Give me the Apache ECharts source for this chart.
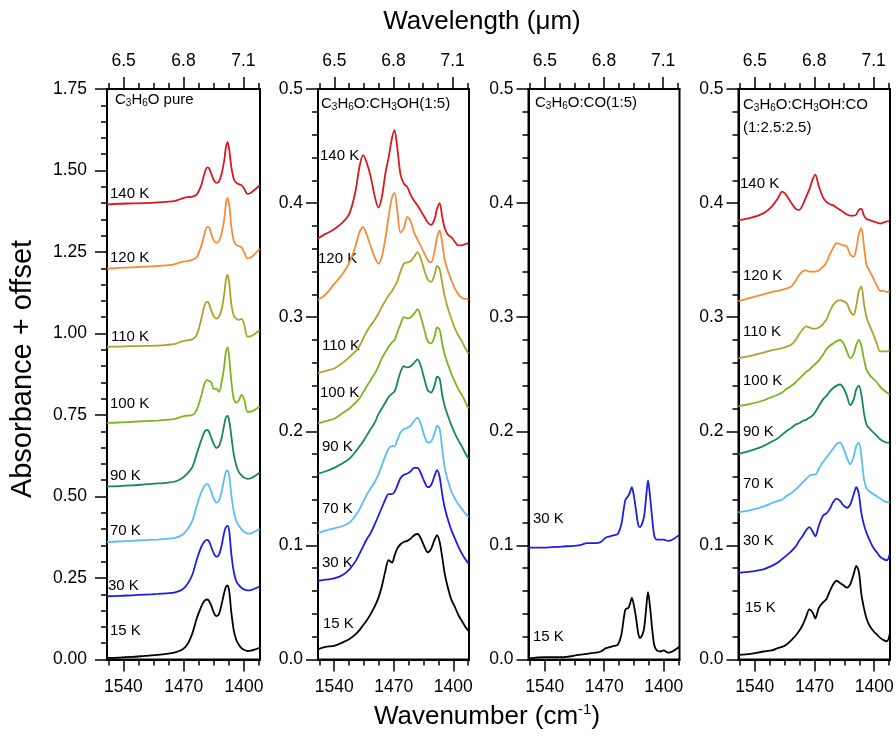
<!DOCTYPE html>
<html>
<head>
<meta charset="utf-8">
<script src="https://cdn.jsdelivr.net/npm/echarts@6.0.0/dist/echarts.min.js"></script>
<style>
html, body { margin: 0; padding: 0; background: #fff; }
#chart { width: 896px; height: 738px; }
</style>
</head>
<body>
<div id="chart"></div>
<script>
// axis ticks
var wavenumberTicks = [1540, 1470, 1400];
var wavenumberMinor = [1557.5, 1522.5, 1505, 1487.5, 1452.5, 1435, 1417.5, 1382.5];
var wavelengthTicks = [6.5, 6.8, 7.1];
var wavelengthMinor = [6.425, 6.575, 6.65, 6.725, 6.875, 6.95, 7.025, 7.175];
var temps = ['140 K', '120 K', '110 K', '100 K', '90 K', '70 K', '30 K', '15 K'];
var tempsCO = ['30 K', '15 K'];

// C3H6O pure
var wnPure = [1559,1545,1530,1515,1500,1490,1480,1472,1466,1460,1455,1450,1446,1443,1441,1438,1435,1432,1429,1426,1423,1421,1419,1417,1415,1412,1409,1406,1403,1400,1396,1392,1388,1382];
var pure140 = [1.396,1.398,1.399,1.400,1.402,1.404,1.407,1.414,1.418,1.420,1.426,1.452,1.490,1.509,1.508,1.490,1.470,1.462,1.467,1.490,1.530,1.572,1.587,1.560,1.515,1.475,1.462,1.458,1.455,1.445,1.428,1.432,1.440,1.454];
var pure120 = [1.199,1.201,1.203,1.205,1.207,1.209,1.213,1.220,1.222,1.226,1.234,1.265,1.305,1.326,1.326,1.305,1.285,1.278,1.284,1.308,1.350,1.398,1.416,1.390,1.335,1.285,1.272,1.268,1.264,1.250,1.230,1.234,1.243,1.260];
var pure110 = [0.959,0.960,0.961,0.962,0.963,0.965,0.968,0.976,0.979,0.982,0.995,1.040,1.085,1.097,1.094,1.070,1.052,1.046,1.052,1.075,1.120,1.165,1.180,1.150,1.095,1.055,1.045,1.042,1.045,1.030,0.990,0.992,0.998,1.010];
var pure100 = [0.726,0.727,0.729,0.731,0.733,0.735,0.738,0.745,0.748,0.750,0.765,0.805,0.845,0.857,0.855,0.850,0.829,0.831,0.821,0.850,0.900,0.945,0.957,0.920,0.860,0.800,0.788,0.795,0.812,0.800,0.760,0.760,0.765,0.775];
var pure90 = [0.531,0.532,0.534,0.537,0.540,0.542,0.546,0.556,0.570,0.590,0.630,0.670,0.698,0.704,0.700,0.680,0.660,0.649,0.655,0.680,0.720,0.743,0.747,0.730,0.690,0.630,0.595,0.575,0.565,0.558,0.554,0.556,0.562,0.573];
var pure70 = [0.360,0.362,0.364,0.366,0.368,0.370,0.373,0.382,0.398,0.425,0.470,0.510,0.532,0.538,0.535,0.515,0.492,0.481,0.488,0.515,0.555,0.576,0.580,0.560,0.510,0.455,0.425,0.410,0.400,0.392,0.386,0.387,0.392,0.400];
var pure30 = [0.194,0.195,0.197,0.199,0.201,0.203,0.206,0.214,0.230,0.260,0.305,0.343,0.362,0.367,0.364,0.345,0.325,0.315,0.322,0.350,0.390,0.406,0.410,0.390,0.330,0.270,0.240,0.228,0.220,0.215,0.212,0.213,0.217,0.224];
var pure15 = [0.005,0.006,0.008,0.011,0.014,0.017,0.022,0.030,0.045,0.080,0.125,0.160,0.180,0.184,0.181,0.165,0.143,0.133,0.140,0.170,0.205,0.223,0.227,0.205,0.150,0.090,0.060,0.045,0.035,0.030,0.026,0.027,0.030,0.036];

// C3H6O:CH3OH (1:5)
var wnMeth = [1559,1550,1540,1530,1522,1515,1510,1506,1502,1497,1492,1488,1484,1480,1476,1472,1469,1466,1462,1458,1454,1450,1446,1442,1438,1434,1430,1426,1422,1419,1416,1413,1410,1406,1402,1398,1394,1390,1386,1382];
var meth140 = [0.369,0.373,0.377,0.383,0.391,0.410,0.433,0.442,0.436,0.423,0.405,0.396,0.405,0.425,0.440,0.457,0.464,0.450,0.425,0.417,0.414,0.407,0.402,0.398,0.393,0.388,0.383,0.381,0.386,0.395,0.400,0.388,0.378,0.372,0.370,0.366,0.363,0.363,0.364,0.365];
var meth120 = [0.315,0.320,0.329,0.338,0.348,0.362,0.375,0.379,0.373,0.362,0.352,0.347,0.353,0.368,0.388,0.405,0.409,0.395,0.374,0.378,0.388,0.384,0.374,0.368,0.362,0.356,0.350,0.348,0.358,0.370,0.376,0.365,0.350,0.340,0.332,0.325,0.320,0.317,0.316,0.316];
var meth110 = [0.251,0.253,0.255,0.260,0.265,0.270,0.275,0.281,0.287,0.293,0.298,0.303,0.309,0.314,0.319,0.323,0.327,0.331,0.340,0.347,0.348,0.349,0.353,0.357,0.351,0.341,0.333,0.331,0.337,0.345,0.342,0.330,0.318,0.307,0.298,0.290,0.284,0.279,0.273,0.268];
var meth100 = [0.207,0.209,0.211,0.216,0.220,0.225,0.229,0.234,0.239,0.245,0.251,0.257,0.264,0.269,0.274,0.278,0.280,0.286,0.294,0.300,0.299,0.300,0.303,0.307,0.300,0.289,0.279,0.277,0.283,0.291,0.289,0.277,0.267,0.258,0.250,0.243,0.237,0.232,0.226,0.220];
var meth90 = [0.163,0.165,0.168,0.172,0.176,0.182,0.187,0.191,0.196,0.202,0.208,0.215,0.220,0.225,0.230,0.233,0.235,0.242,0.252,0.257,0.256,0.257,0.260,0.263,0.257,0.246,0.236,0.234,0.240,0.248,0.246,0.232,0.222,0.213,0.205,0.198,0.192,0.187,0.181,0.176];
var meth70 = [0.111,0.113,0.115,0.117,0.120,0.126,0.132,0.138,0.144,0.150,0.156,0.162,0.170,0.178,0.185,0.187,0.187,0.192,0.199,0.202,0.203,0.205,0.209,0.212,0.206,0.196,0.190,0.191,0.198,0.205,0.202,0.185,0.168,0.156,0.147,0.141,0.136,0.132,0.128,0.125];
var meth30 = [0.069,0.070,0.071,0.074,0.079,0.086,0.093,0.099,0.105,0.111,0.119,0.126,0.133,0.140,0.145,0.145,0.147,0.152,0.159,0.162,0.163,0.165,0.168,0.168,0.163,0.156,0.151,0.153,0.161,0.166,0.160,0.145,0.133,0.122,0.113,0.106,0.099,0.093,0.088,0.084];
var meth15 = [0.009,0.011,0.012,0.015,0.018,0.022,0.026,0.030,0.034,0.040,0.047,0.054,0.064,0.077,0.087,0.085,0.091,0.097,0.101,0.103,0.104,0.106,0.109,0.110,0.106,0.099,0.094,0.097,0.105,0.109,0.103,0.090,0.075,0.062,0.052,0.046,0.039,0.034,0.029,0.025];

// C3H6O:CO (1:5)
var wnCO = [1559,1540,1520,1500,1490,1480,1474,1468,1463,1458,1454,1450,1447,1445,1442,1440,1437.5,1435,1432.5,1430,1428,1425,1423,1421,1418.5,1416,1413.5,1411,1408,1404,1400,1395,1390,1382];
var co30 = [0.098,0.098,0.099,0.100,0.102,0.102,0.103,0.107,0.108,0.109,0.110,0.118,0.132,0.140,0.143,0.146,0.151,0.143,0.130,0.118,0.116,0.120,0.126,0.140,0.157,0.142,0.123,0.108,0.105,0.105,0.105,0.104,0.105,0.109];
var co15 = [0.001,0.002,0.002,0.004,0.005,0.006,0.007,0.010,0.011,0.012,0.013,0.021,0.036,0.044,0.045,0.048,0.054,0.047,0.036,0.023,0.019,0.022,0.028,0.042,0.059,0.045,0.026,0.012,0.008,0.007,0.008,0.006,0.007,0.011];

// C3H6O:CH3OH:CO (1:2.5:2.5)
var wnMix = [1559,1545,1530,1520,1513,1508,1503,1497,1492,1488,1484,1480,1476,1472,1469,1465,1460,1456,1452,1448,1444,1440,1436,1432,1428,1424,1421,1418,1415,1412,1409,1405,1401,1397,1393,1389,1385,1382];
var mix140 = [0.385,0.387,0.391,0.397,0.404,0.410,0.407,0.400,0.395,0.394,0.398,0.405,0.412,0.421,0.425,0.415,0.405,0.401,0.399,0.398,0.396,0.394,0.392,0.390,0.389,0.389,0.390,0.394,0.395,0.389,0.386,0.385,0.384,0.383,0.382,0.383,0.384,0.384];
var mix120 = [0.314,0.317,0.320,0.322,0.323,0.324,0.325,0.327,0.332,0.337,0.340,0.341,0.340,0.340,0.340,0.341,0.344,0.348,0.355,0.361,0.365,0.364,0.363,0.362,0.355,0.353,0.360,0.373,0.378,0.362,0.346,0.340,0.334,0.328,0.323,0.323,0.322,0.323];
var mix110 = [0.264,0.266,0.269,0.271,0.272,0.273,0.274,0.276,0.280,0.285,0.289,0.292,0.291,0.290,0.290,0.291,0.294,0.298,0.305,0.311,0.314,0.315,0.314,0.312,0.305,0.302,0.310,0.323,0.327,0.312,0.300,0.292,0.285,0.277,0.270,0.270,0.270,0.271];
var mix100 = [0.222,0.224,0.227,0.230,0.232,0.234,0.237,0.240,0.243,0.246,0.249,0.252,0.254,0.257,0.259,0.262,0.267,0.272,0.275,0.277,0.279,0.280,0.277,0.270,0.264,0.268,0.276,0.280,0.275,0.263,0.254,0.249,0.246,0.243,0.239,0.236,0.234,0.232];
var mix90 = [0.180,0.183,0.187,0.191,0.194,0.197,0.200,0.203,0.206,0.207,0.209,0.210,0.212,0.214,0.217,0.222,0.228,0.231,0.235,0.238,0.240,0.241,0.238,0.231,0.223,0.228,0.237,0.240,0.232,0.216,0.206,0.202,0.199,0.196,0.193,0.191,0.190,0.190];
var mix70 = [0.129,0.131,0.134,0.137,0.139,0.140,0.143,0.146,0.149,0.152,0.155,0.158,0.161,0.162,0.162,0.167,0.173,0.177,0.181,0.185,0.189,0.190,0.185,0.177,0.171,0.178,0.187,0.190,0.178,0.158,0.150,0.147,0.145,0.143,0.141,0.139,0.138,0.138];
var mix30 = [0.076,0.077,0.079,0.082,0.085,0.088,0.091,0.095,0.099,0.104,0.108,0.113,0.116,0.112,0.108,0.117,0.126,0.128,0.132,0.138,0.141,0.139,0.135,0.133,0.136,0.145,0.151,0.145,0.128,0.118,0.111,0.104,0.098,0.094,0.090,0.088,0.087,0.092];
var mix15 = [0.004,0.005,0.007,0.008,0.010,0.011,0.013,0.017,0.021,0.025,0.030,0.037,0.044,0.041,0.036,0.045,0.050,0.053,0.060,0.066,0.069,0.067,0.065,0.063,0.066,0.075,0.082,0.077,0.057,0.045,0.036,0.029,0.025,0.022,0.019,0.017,0.016,0.022];

var tempColors = {
    '140 K': '#d71920', '120 K': '#f68b3c', '110 K': '#aaa42c', '100 K': '#7db41f',
    '90 K': '#17885a', '70 K': '#5bbdf6', '30 K': '#1d1de8', '15 K': '#000000'
};

var FONT = "'Liberation Sans', Arial, sans-serif";
var GRID_TOP = 89, GRID_H = 570.5;
var TICK_FONT = 17.5;

var panels = [
    {
        wn: wnPure, curves: [pure140, pure120, pure110, pure100, pure90, pure70, pure30, pure15], temps: temps,
        left: 107, width: 153, yMax: 1.75, yStep: 0.25, digits: 2, labelMargin: 20,
        title: ['{n|C}{s|3}{n|H}{s|6}{n|O pure}'], titleXY: [115, 100],
        labelXY: [[110, 194], [110, 258], [111, 337], [110, 404], [110, 476], [110, 531], [108, 586], [110, 631]]
    },
    {
        wn: wnMeth, curves: [meth140, meth120, meth110, meth100, meth90, meth70, meth30, meth15], temps: temps,
        left: 318, width: 151, yMax: 0.5, yStep: 0.1, digits: 1, labelMargin: 15,
        title: ['{n|C}{s|3}{n|H}{s|6}{n|O:CH}{s|3}{n|OH(1:5)}'], titleXY: [321, 104],
        labelXY: [[320, 156], [318, 259], [322, 346], [320, 393], [322, 447], [322, 509], [322, 563], [323, 624]]
    },
    {
        wn: wnCO, curves: [co30, co15], temps: tempsCO,
        left: 528.5, width: 151, yMax: 0.5, yStep: 0.1, digits: 1, labelMargin: 15,
        title: ['{n|C}{s|3}{n|H}{s|6}{n|O:CO(1:5)}'], titleXY: [535, 103],
        labelXY: [[533, 519], [533, 637]]
    },
    {
        wn: wnMix, curves: [mix140, mix120, mix110, mix100, mix90, mix70, mix30, mix15], temps: temps,
        left: 738.5, width: 151.5, yMax: 0.5, yStep: 0.1, digits: 1, labelMargin: 15,
        title: ['{n|C}{s|3}{n|H}{s|6}{n|O:CH}{s|3}{n|OH:CO}', '{n|(1:2.5:2.5)}'], titleXY: [743, 105],
        labelXY: [[740, 184], [743, 276], [743, 332], [743, 381], [743, 432], [743, 484], [743, 541], [745, 608]]
    }
];

var richTitle = {
    n: { fontSize: 15, fontFamily: FONT, color: '#000', lineHeight: 16, verticalAlign: 'top' },
    s: { fontSize: 10, fontFamily: FONT, color: '#000', lineHeight: 10, verticalAlign: 'bottom', padding: [8, 0, 0, 0] }
};

var grids = [], xAxes = [], yAxes = [], series = [], graphics = [];
var axisLine = { show: true, onZero: false, lineStyle: { color: '#000', width: 2 } };
var tickStyle = { color: '#000', width: 1.5 };

panels.forEach(function (p, i) {
    grids.push({
        left: p.left, top: GRID_TOP, width: p.width, height: GRID_H,
        outerBoundsMode: 'none', containLabel: false,
        show: true, borderColor: '#000', borderWidth: 2, backgroundColor: 'transparent'
    });

    // bottom: wavenumber, major then minor ticks
    xAxes.push({
        gridIndex: i, type: 'value', position: 'bottom', inverse: true, min: 1381.5, max: 1559,
        axisLine: axisLine, splitLine: { show: false },
        axisTick: { show: true, customValues: wavenumberTicks, length: 12, lineStyle: tickStyle },
        axisLabel: {
            customValues: wavenumberTicks, fontSize: TICK_FONT, fontFamily: FONT, color: '#000', margin: 19,
            formatter: function (v) { return String(v); }
        }
    });
    xAxes.push({
        gridIndex: i, type: 'value', position: 'bottom', inverse: true, min: 1381.5, max: 1559,
        axisLine: { show: false, onZero: false }, splitLine: { show: false },
        axisTick: { show: true, customValues: wavenumberMinor, length: 6, lineStyle: tickStyle },
        axisLabel: { show: false }
    });
    // top: wavelength, major then minor ticks
    xAxes.push({
        gridIndex: i, type: 'value', position: 'top', min: 6.417, max: 7.183,
        axisLine: axisLine, splitLine: { show: false },
        axisTick: { show: true, customValues: wavelengthTicks, length: 12, lineStyle: tickStyle },
        axisLabel: {
            customValues: wavelengthTicks, fontSize: TICK_FONT, fontFamily: FONT, color: '#000', margin: 19,
            formatter: function (v) { return v.toFixed(1); }
        }
    });
    xAxes.push({
        gridIndex: i, type: 'value', position: 'top', min: 6.417, max: 7.183,
        axisLine: { show: false, onZero: false }, splitLine: { show: false },
        axisTick: { show: true, customValues: wavelengthMinor, length: 6, lineStyle: tickStyle },
        axisLabel: { show: false }
    });

    yAxes.push({
        gridIndex: i, type: 'value', min: 0, max: p.yMax, interval: p.yStep,
        axisLine: axisLine, splitLine: { show: false },
        axisTick: { show: true, length: 12, lineStyle: tickStyle },
        minorTick: { show: true, splitNumber: 5, length: 6, lineStyle: tickStyle },
        minorSplitLine: { show: false },
        axisLabel: {
            fontSize: TICK_FONT, fontFamily: FONT, color: '#000', margin: p.labelMargin,
            formatter: (function (d) { return function (v) { return v.toFixed(d); }; })(p.digits)
        }
    });

    p.curves.forEach(function (vals, k) {
        var name = p.temps[k];
        series.push({
            type: 'line', name: name, xAxisIndex: 4 * i, yAxisIndex: i,
            data: p.wn.map(function (w, j) { return [w, vals[j]]; }),
            showSymbol: false, symbol: 'none', smooth: 0.3, silent: true,
            lineStyle: { color: tempColors[name], width: 1.8 },
            itemStyle: { color: tempColors[name] }
        });
        graphics.push({
            type: 'text', x: p.labelXY[k][0], y: p.labelXY[k][1], silent: true,
            style: { text: name, fill: '#000', font: '15px ' + FONT, align: 'left', verticalAlign: 'middle' }
        });
    });

    p.title.forEach(function (t, r) {
        graphics.push({
            type: 'text', x: p.titleXY[0], y: p.titleXY[1] + r * 23 - 8, silent: true,
            style: { text: t, rich: richTitle, align: 'left', verticalAlign: 'top' }
        });
    });
});

graphics.push({
    type: 'text', x: 482, y: 22, silent: true,
    style: { text: 'Wavelength (μm)', fill: '#000', font: '26px ' + FONT, align: 'center', verticalAlign: 'middle' }
});
graphics.push({
    type: 'text', x: 487, y: 717, silent: true,
    style: {
        text: '{n|Wavenumber (cm}{u|-1}{n|)}', align: 'center', verticalAlign: 'middle',
        rich: {
            n: { fontSize: 26, fontFamily: FONT, color: '#000', lineHeight: 30 },
            u: { fontSize: 15, fontFamily: FONT, color: '#000', lineHeight: 30, verticalAlign: 'top', padding: [0, 0, 12, 0] }
        }
    }
});
graphics.push({
    type: 'text', x: 23, y: 369, rotation: Math.PI / 2, silent: true,
    style: { text: 'Absorbance + offset', fill: '#000', font: '29px ' + FONT, align: 'center', verticalAlign: 'middle' }
});

var chart = echarts.init(document.getElementById('chart'), null, { renderer: 'canvas' });
chart.setOption({
    animation: false,
    backgroundColor: '#fff',
    grid: grids,
    xAxis: xAxes,
    yAxis: yAxes,
    series: series,
    graphic: graphics
});
</script>
</body>
</html>
